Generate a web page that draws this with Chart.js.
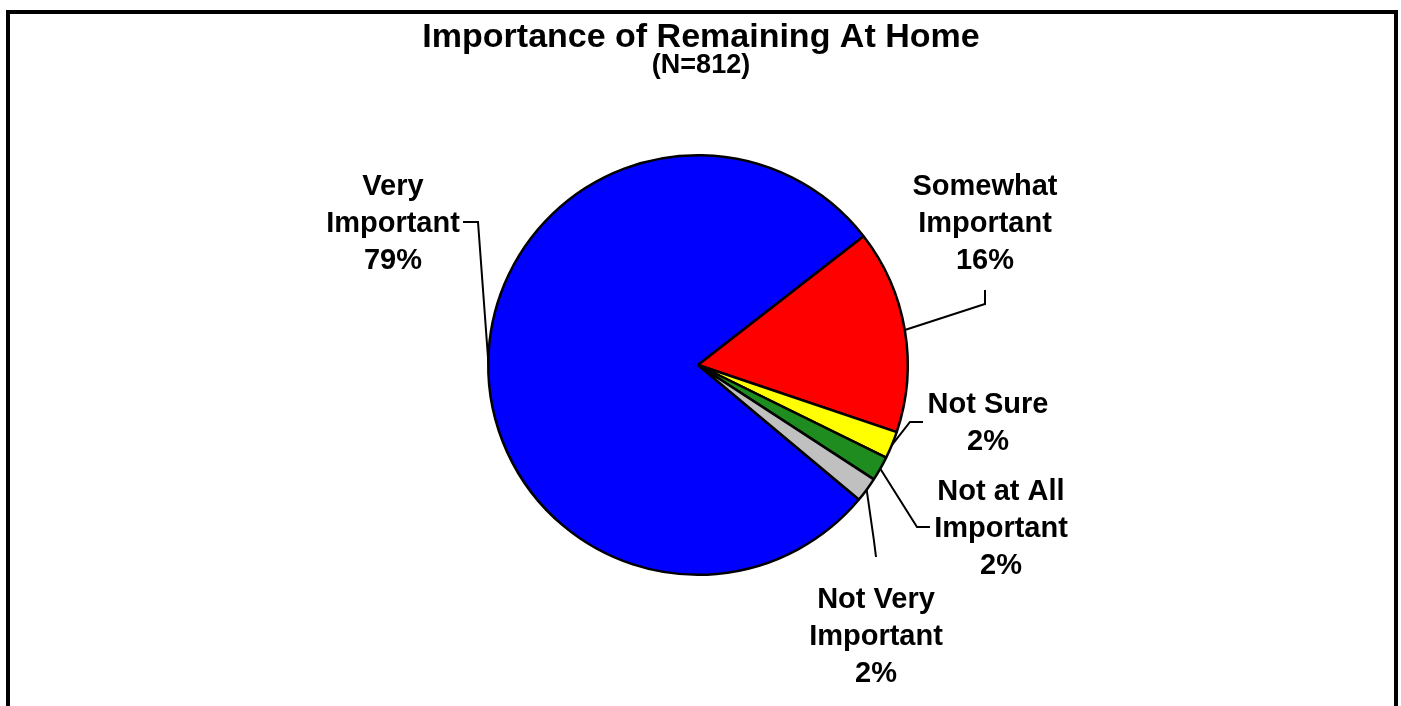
<!DOCTYPE html>
<html>
<head>
<meta charset="utf-8">
<script src="https://cdn.jsdelivr.net/npm/chart.js@4.4.0/dist/chart.umd.min.js"></script>
<style>
  html, body { margin:0; padding:0; background:#fff; }
  #wrap { position:relative; width:1401px; height:706px; overflow:hidden; }
  #frame { position:absolute; left:6px; top:10px; width:1384px; height:720px; border:4px solid #000; box-sizing:content-box; }
  canvas { position:absolute; left:0; top:0; }
</style>
</head>
<body>
<div id="wrap">
  <div id="frame"></div>
  <canvas id="c" width="1401" height="706"></canvas>
</div>
<script>
// ---- Data ----
const categories = ['Very Important', 'Somewhat Important', 'Not Sure', 'Not at All Important', 'Not Very Important'];
const values = [78.4, 15.7, 2.1, 1.9, 1.9];
const percentLabels = ['79%', '16%', '2%', '2%', '2%'];
const labelLines = [
  ['Very', 'Important', '79%'],
  ['Somewhat', 'Important', '16%'],
  ['Not Sure', '2%'],
  ['Not at All', 'Important', '2%'],
  ['Not Very', 'Important', '2%']
];
const colors = ['#0000FF', '#FF0000', '#FFFF00', '#1E8C1E', '#C0C0C0'];
const titleText = 'Importance of Remaining At Home';
const subtitleText = '(N=812)';

// ---- Label layout (offsets from the pie centre, px) ----
const labelLayout = [
  { tx: -305, ty: -170, lead: [[-235, -143], [-220, -143]] },
  { tx: 287,  ty: -170, lead: [[287, -75], [287, -61]] },
  { tx: 290,  ty: 48,   lead: [[225, 57], [212, 57]] },
  { tx: 303,  ty: 135,  lead: [[232, 162], [219, 162]] },
  { tx: 178,  ty: 243,  lead: [[178, 192], [176, 176]] }
];
const lineGap = 37;
const FONT = '"Liberation Sans", Arial, sans-serif';

const labelPlugin = {
  id: 'pieLabels',
  afterDatasetsDraw(chart) {
    const ctx = chart.ctx;
    const meta = chart.getDatasetMeta(0);
    ctx.save();
    // titles
    ctx.fillStyle = '#000';
    ctx.textAlign = 'center';
    ctx.textBaseline = 'alphabetic';
    ctx.font = 'bold 34px ' + FONT;
    ctx.fillText(titleText, 701, 47);
    ctx.font = 'bold 27px ' + FONT;
    ctx.fillText(subtitleText, 701, 73);

    meta.data.forEach((arc, i) => {
      const p = arc.getProps(['x', 'y', 'startAngle', 'endAngle', 'outerRadius'], true);
      const mid = (p.startAngle + p.endAngle) / 2;
      const ex = p.x + Math.cos(mid) * p.outerRadius;
      const ey = p.y + Math.sin(mid) * p.outerRadius;
      const L = labelLayout[i];
      ctx.beginPath();
      ctx.strokeStyle = '#000';
      ctx.lineWidth = 2;
      ctx.moveTo(p.x + L.lead[0][0], p.y + L.lead[0][1]);
      ctx.lineTo(p.x + L.lead[1][0], p.y + L.lead[1][1]);
      ctx.lineTo(ex, ey);
      ctx.stroke();

      ctx.font = 'bold 29px ' + FONT;
      ctx.fillStyle = '#000';
      ctx.textAlign = 'center';
      labelLines[i].forEach((t, k) => {
        ctx.fillText(t, p.x + L.tx, p.y + L.ty + k * lineGap);
      });
    });
    ctx.restore();
  }
};

new Chart(document.getElementById('c'), {
  type: 'pie',
  data: {
    labels: categories,
    datasets: [{
      data: values,
      backgroundColor: colors,
      borderColor: '#000',
      borderWidth: 2.5,
      borderAlign: 'center'
    }]
  },
  options: {
    responsive: false,
    animation: false,
    rotation: 129.9,
    layout: { padding: { top: 154, bottom: 130, left: 100, right: 105 } },
    plugins: {
      legend: { display: false },
      tooltip: { enabled: false },
      title: { display: false }
    }
  },
  plugins: [labelPlugin]
});
</script>
</body>
</html>
